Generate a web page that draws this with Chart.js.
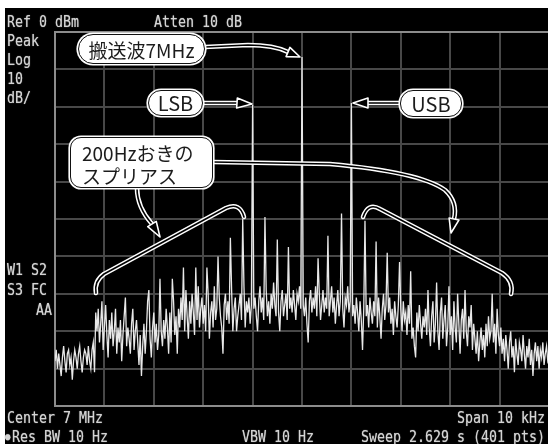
<!DOCTYPE html>
<html>
<head>
<meta charset="utf-8">
<script src="https://cdn.jsdelivr.net/npm/chart.js@4.4.1/dist/chart.umd.min.js"></script>
<style>
  body { margin: 0; width: 548px; height: 444px; overflow: hidden; background: #fff; position: relative; }
  .screen { position: absolute; left: 5px; top: 8px; width: 545px; height: 436px; background: #000; }
  #sa { position: absolute; left: 5px; top: 8px; }
  .txt {
    position: absolute; font-family: "DejaVu Sans Mono", monospace; font-size: 13.3px;
    line-height: 13.3px; color: #d4d4d4; white-space: pre; text-shadow: 0 0 1px #999;
    transform: scaleY(1.15); transform-origin: 0 11px; z-index: 2;
  }
  .bubble {
    position: absolute; background: #fff; border: 1.2px solid #111; box-shadow: 0 0 0 1.6px #fff;
    font-family: "Noto Sans CJK JP", sans-serif; color: #1c1c1c; line-height: 1;
    display: flex; align-items: center; justify-content: center; box-sizing: border-box; z-index: 3;
  }
</style>
</head>
<body>
<div class="screen"></div>
<canvas id="sa" width="545" height="436"></canvas>

<div class="txt" style="left:7px;top:16px">Ref 0 dBm</div>
<div class="txt" style="left:154px;top:16px">Atten 10 dB</div>
<div class="txt" style="left:7px;top:35px">Peak</div>
<div class="txt" style="left:7px;top:54px">Log</div>
<div class="txt" style="left:7px;top:73px">10</div>
<div class="txt" style="left:7px;top:92px">dB/</div>
<div class="txt" style="left:7px;top:264px">W1 S2</div>
<div class="txt" style="left:7px;top:284px">S3 FC</div>
<div class="txt" style="left:36px;top:304px">AA</div>
<div class="txt" style="left:7px;top:412px">Center 7 MHz</div>
<div class="txt" style="right:3px;top:412px;transform-origin:100% 11px">Span 10 kHz</div>
<div class="txt" style="left:5px;top:431px;font-size:9px">&#9679;</div>
<div class="txt" style="left:12px;top:431px">Res BW 10 Hz</div>
<div class="txt" style="left:242px;top:431px">VBW 10 Hz</div>
<div class="txt" style="right:3px;top:431px;transform-origin:100% 11px">Sweep 2.629 s (401 pts)</div>

<div class="bubble" style="left:78px;top:34px;width:127px;height:30px;border-radius:15px;font-size:19px">搬送波7MHz</div>
<div class="bubble" style="left:148px;top:90px;width:55px;height:26px;border-radius:13px;font-size:20px">LSB</div>
<div class="bubble" style="left:400px;top:90px;width:62px;height:27px;border-radius:13px;font-size:20px">USB</div>
<div class="bubble" style="left:70px;top:137px;width:143px;height:51px;border-radius:11px;font-size:19px;line-height:23px;display:block;padding:3px 0 0 11px">200Hzおきの<br>スプリアス</div>

<script>
// sweep: 7 MHz center, 10 kHz span, 401 points (offset from center in Hz)
const sweepStartHz = -5000;
const sweepStepHz = 25;

// trace level in dBm, one value per sweep point (401)
const noiseDbm = [
  -88,-85,-90,-86,-89,-92,-87,-84,-88,-91,-86,-85,-89,-87,-93,-88,-85,-87,-90,-86,
  -84,-88,-91,-87,-85,-86,-89,-84,-88,-90,-85,-83,-91,-75,-80,-74,-83,-78,-72,-85,
  -79,-73,-81,-87,-77,-82,-75,-84,-80,-74,-86,-79,-83,-77,-88,-81,-76,-71,-84,-79,
  -82,-86,-78,-74,-85,-80,-77,-83,-89,-81,-92,-84,-78,-86,-80,-72,-69,-82,-87,-79,
  -75,-83,-78,-85,-81,-66,-80,-84,-77,-82,-74,-79,-86,-75,-83,-78,-72,-81,-76,-86,
  -74,-79,-71,-77,-73,-80,-69,-76,-82,-72,-78,-70,-75,-81,-73,-77,-68,-79,-74,-71,
  -78,-73,-80,-76,-70,-82,-75,-72,-79,-68,-77,-74,-81,-71,-76,-79,-86,-73,-70,-77,
  -72,-78,-75,-69,-80,-74,-71,-80,-76,-73,-70,-77,-74,-68,-79,-72,-75,-71,-78,-73,
  -70,-74,-71,-76,-80,-72,-68,-75,-71,-77,-73,-69,-76,-72,-78,-70,-74,-67,-73,-76,
  -71,-75,-80,-72,-69,-76,-73,-70,-77,-68,-74,-71,-75,-69,-73,-77,-70,-72,-68,-74,
  -70,-73,-76,-71,-78,-83,-72,-69,-75,-71,-74,-68,-76,-72,-70,-77,-73,-69,-75,-71,
  -74,-70,-76,-72,-68,-75,-71,-78,-73,-69,-76,-72,-70,-74,-79,-71,-73,-68,-75,-72,
  -70,-76,-73,-78,-71,-75,-80,-72,-77,-85,-74,-70,-76,-73,-79,-71,-75,-78,-72,-76,
  -73,-79,-71,-76,-82,-74,-70,-77,-73,-80,-75,-71,-78,-74,-81,-72,-76,-79,-73,-77,
  -74,-80,-72,-77,-75,-81,-73,-78,-76,-82,-79,-84,-87,-75,-80,-73,-78,-82,-76,-79,
  -74,-81,-69,-79,-84,-76,-72,-83,-78,-67,-80,-85,-75,-71,-82,-77,-73,-84,-79,-68,
  -81,-76,-85,-72,-79,-83,-70,-78,-86,-77,-74,-82,-69,-80,-84,-76,-79,-73,-85,-78,
  -82,-86,-80,-88,-83,-79,-85,-81,-87,-78,-84,-76,-82,-80,-70,-83,-78,-86,-74,-81,
  -84,-79,-86,-82,-88,-81,-85,-90,-83,-80,-87,-84,-91,-82,-86,-89,-83,-85,-88,-81,
  -86,-90,-84,-87,-82,-89,-85,-92,-86,-83,-88,-84,-90,-85,-87,-83,-89,-86,-84,-88,
  -87
];

// LSB, carrier, USB
const toneHz = [-1000, 0, 1000];
const toneDbm = [-19.5, -6.7, -19];

// spurious lines around the carrier
const spurHz = [-2625, -2400, -2150, -1925, -1700, -1450, -1200, -750, -500, -275,
                325, 525, 800, 1275, 1500, 1725, 1975, 2200];
const spurDbm = [-66, -63, -63, -63, -60, -55, -50, -49.5, -55.5, -57.5,
                 -60.5, -54.5, -48.5, -50.5, -56, -59, -61.5, -64];

const trace = noiseDbm.slice();
function putLine(hz, dbm) {
  const i = Math.round((hz - sweepStartHz) / sweepStepHz);
  trace[i] = dbm;
}
spurHz.forEach((hz, k) => putLine(hz, spurDbm[k]));
toneHz.forEach((hz, k) => putLine(hz, toneDbm[k]));

const points = trace.map((v, i) => ({ x: sweepStartHz + i * sweepStepHz, y: v }));

// double (white / black) leader lines with hollow arrow heads, page coords
function dbl(ctx, draw) {
  ctx.lineCap = "round";
  ctx.lineJoin = "round";
  ctx.beginPath(); draw(); ctx.strokeStyle = "#fff"; ctx.lineWidth = 4.6; ctx.stroke();
  ctx.beginPath(); draw(); ctx.strokeStyle = "#000"; ctx.lineWidth = 1.6; ctx.stroke();
}
function arrow(ctx, bx, by, tx, ty) {
  const dx = tx - bx, dy = ty - by, len = Math.hypot(dx, dy);
  const px = -dy / len * 5, py = dx / len * 5;
  ctx.beginPath();
  ctx.moveTo(tx, ty);
  ctx.lineTo(bx + px, by + py);
  ctx.lineTo(bx - px, by - py);
  ctx.closePath();
  ctx.fillStyle = "#000"; ctx.fill();
  ctx.strokeStyle = "#fff"; ctx.lineWidth = 1.6; ctx.stroke();
}

const callouts = {
  id: "callouts",
  afterDatasetsDraw(chart) {
    const ctx = chart.ctx;
    ctx.save();
    ctx.translate(-5, -8);
    // carrier
    dbl(ctx, () => { ctx.moveTo(205, 47); ctx.lineTo(248, 45); ctx.quadraticCurveTo(274, 45, 288, 52); });
    arrow(ctx, 288, 52, 300, 57);
    // LSB / USB
    dbl(ctx, () => { ctx.moveTo(203, 103); ctx.lineTo(238, 103); });
    arrow(ctx, 237, 103, 252, 104);
    dbl(ctx, () => { ctx.moveTo(400, 103); ctx.lineTo(367, 103); });
    arrow(ctx, 368, 103, 353, 103);
    // spur brackets
    dbl(ctx, () => { ctx.moveTo(96, 293); ctx.quadraticCurveTo(94, 281, 104, 274); ctx.lineTo(226, 208); ctx.quadraticCurveTo(240, 202, 244, 217); });
    dbl(ctx, () => { ctx.moveTo(363, 217); ctx.quadraticCurveTo(368, 202, 380, 209); ctx.lineTo(502, 273); ctx.quadraticCurveTo(514, 281, 511, 294); });
    // spur leaders
    dbl(ctx, () => { ctx.moveTo(137, 188); ctx.quadraticCurveTo(137, 207, 152, 224); });
    arrow(ctx, 152, 224, 160, 237);
    dbl(ctx, () => { ctx.moveTo(213, 162); ctx.lineTo(330, 164); ctx.quadraticCurveTo(420, 172, 445, 190); ctx.quadraticCurveTo(458, 202, 454, 219); });
    arrow(ctx, 454, 219, 451, 233);
    ctx.restore();
  }
};

const gridDim = "#484848";
const gridBright = "#8c8c8c";

new Chart(document.getElementById("sa"), {
  type: "line",
  data: {
    datasets: [{
      data: points,
      borderColor: "#e8e8e8",
      borderWidth: 1.3,
      pointRadius: 0,
      tension: 0,
    }],
  },
  options: {
    responsive: false,
    animation: false,
    devicePixelRatio: 1,
    layout: { padding: { left: 50, top: 24, right: 1, bottom: 38 } },
    plugins: { legend: { display: false }, tooltip: { enabled: false } },
    scales: {
      x: {
        type: "linear",
        min: -5000,
        max: 5000,
        ticks: { stepSize: 1000, display: false },
        grid: { color: gridDim, lineWidth: 2, drawTicks: false },
        border: { color: gridBright, width: 2 },
      },
      y: {
        min: -100,
        max: 0,
        ticks: { stepSize: 10, display: false },
        grid: {
          color: (c) => (c.tick && c.tick.value === 0 ? gridBright : gridDim),
          lineWidth: 2,
          drawTicks: false,
        },
        border: { color: gridBright, width: 2 },
      },
    },
  },
  plugins: [callouts],
});
</script>
</body>
</html>
